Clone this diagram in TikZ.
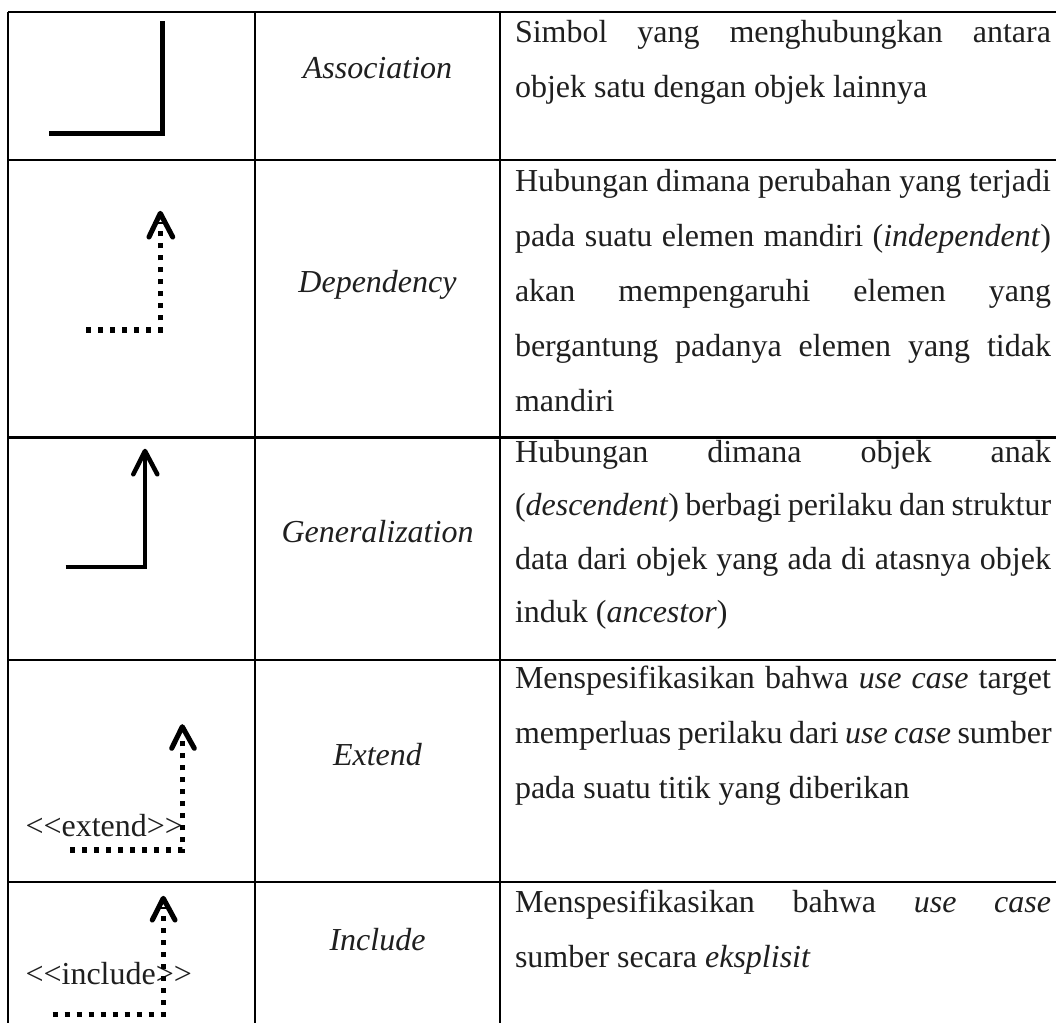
\documentclass[tikz,border=0pt]{standalone}
\usepackage{fontspec}
\setmainfont{Liberation Serif}
\newcommand{\jl}[1]{\hbox to 201pt{\spaceskip=0.25em plus 1fil minus 0.05em\relax #1}}
\newcommand{\lastl}[1]{\hbox{\spaceskip=0.25em\relax #1}}
\newcommand{\lt}{<\kern0pt<\kern0pt}
\newcommand{\gt}{>\kern0pt>}
\begin{document}
\begin{tikzpicture}[x=0.375pt, y=-0.375pt,
  grid/.style={line width=1.1pt, black},
  cell/.style={anchor=base west, inner sep=0pt, outer sep=0pt, text width=201pt,
    text=black!88, font=\fontsize{12pt}{20.625pt}\selectfont},
  lab/.style={anchor=base, inner sep=0pt, text=black!88, font=\fontsize{12pt}{14pt}\selectfont\itshape},
  stereo/.style={anchor=base west, inner sep=0pt, text=black!88, font=\fontsize{12pt}{14pt}\selectfont},
  solidsym/.style={line width=1.8pt, black, line cap=butt, line join=miter},
  dotsym/.style={line width=1.9pt, black, line cap=butt, dash pattern=on 2pt off 2.5pt},
  head/.style={line width=1.9pt, black, line cap=round, line join=round}]
\useasboundingbox (0,0) rectangle (1056,1023);
\fill[white] (0,0) rectangle (1056,1023);

% table grid
\foreach \yy in {12,160,437.5,660,882} \draw[grid] (8,\yy) -- (1056,\yy);
\foreach \xx in {8,255,500} \draw[grid] (\xx,12) -- (\xx,1023);

% column 2 labels
\node[lab] (l1) at (377.5,79) {Association};
\node[lab] (l2) at (377.5,293) {Dependency};
\node[lab] (l3) at (377.5,542) {Generalization};
\node[lab] (l4) at (377.5,765) {Extend};
\node[lab] (l5) at (377.5,950) {Include};

% column 3 descriptions
\node[cell] (d1) at (515,42.7) {\jl{Simbol yang menghubungkan antara}\par
\lastl{objek satu dengan objek lainnya}};
\node[cell] (d2) at (515,191.7) {\jl{Hubungan dimana perubahan yang terjadi}\par
\jl{pada suatu elemen mandiri (\textit{independent})}\par
\jl{akan mempengaruhi elemen yang}\par
\jl{bergantung padanya elemen yang tidak}\par
\lastl{mandiri}};
\node[cell, font=\fontsize{12pt}{20.1pt}\selectfont] (d3) at (515,462) {\jl{Hubungan dimana objek anak}\par
\jl{(\textit{descendent}) berbagi perilaku dan struktur}\par
\jl{data dari objek yang ada di atasnya objek}\par
\lastl{induk (\textit{ancestor})}};
\node[cell] (d4) at (515,688) {\jl{Menspesifikasikan bahwa \textit{use case} target}\par
\jl{memperluas perilaku dari \textit{use case} sumber}\par
\lastl{pada suatu titik yang diberikan}};
\node[cell] (d5) at (515,912) {\jl{Menspesifikasikan bahwa \textit{use case}}\par
\lastl{sumber secara \textit{eksplisit}}};

% Association symbol
\coordinate (a1) at (49.3,133.3);
\coordinate (a2) at (162.3,133.3);
\coordinate (a3) at (162.3,20.7);
\draw[solidsym] (a1) -- (a2) -- (a3);

% Dependency symbol
\coordinate (p1) at (86,330);
\coordinate (p2) at (160.3,330);
\coordinate (p3) at (160.3,222);
\coordinate (pt) at (160.3,213.3);
\draw[dotsym] (p1) -- (p2) -- (p3);
\draw[head] (149,237) -- (pt) -- (172.7,237);

% Generalization symbol
\coordinate (g1) at (65.7,566.7);
\coordinate (g2) at (145,566.7);
\coordinate (gt) at (145,451);
\draw[solidsym, line width=1.65pt] (g1) -- (g2) -- (gt);
\draw[head, line width=1.7pt] (133.3,474.3) -- (gt) -- (157.3,474.3);

% Extend symbol
\node[stereo] (se) at (25,836) {\lt extend\gt};
\coordinate (e1) at (70,850);
\coordinate (e2) at (182.3,850);
\coordinate (e3) at (182.3,735);
\coordinate (et) at (182.3,726.7);
\draw[dotsym] (e1) -- (e2) -- (e3);
\draw[head] (171.7,748.3) -- (et) -- (194.3,748.3);

% Include symbol
\node[stereo] (si) at (25,984) {\lt include\gt};
\coordinate (i1) at (52.7,1014.3);
\coordinate (i2) at (163.3,1014.3);
\coordinate (i3) at (163.3,907);
\coordinate (it) at (163.3,898.3);
\draw[dotsym] (i1) -- (i2) -- (i3);
\draw[head] (152.3,920) -- (it) -- (175,920);
\end{tikzpicture}
\end{document}
